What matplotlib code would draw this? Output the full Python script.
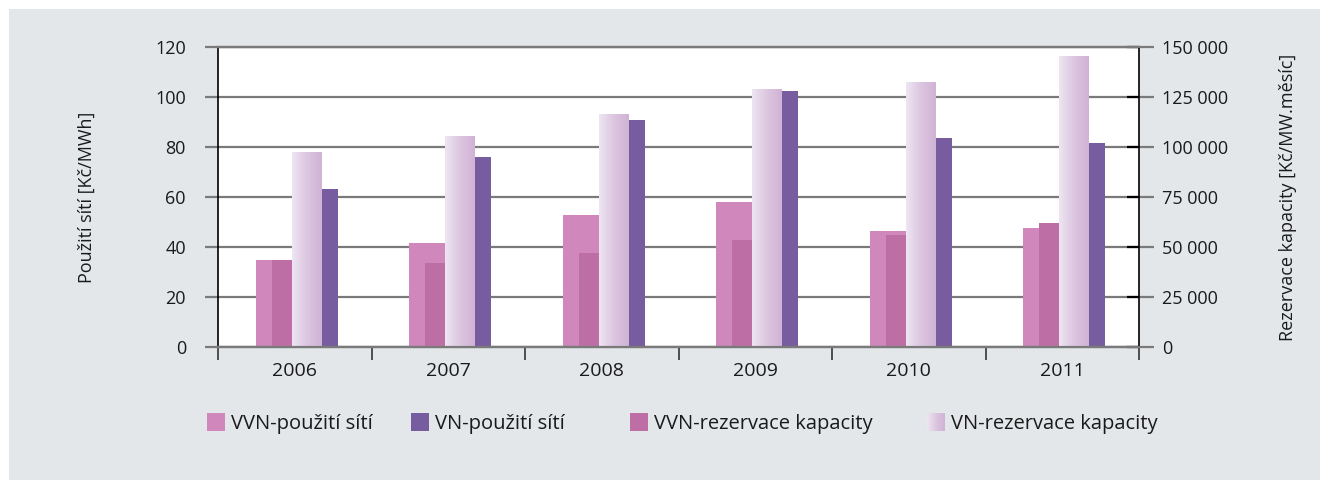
import numpy as np
import matplotlib
matplotlib.use("Agg")
import matplotlib.pyplot as plt
from matplotlib.ticker import FixedLocator, FuncFormatter
from matplotlib.patches import Rectangle
from matplotlib.colors import LinearSegmentedColormap

# ---- data ----
years = ['2006', '2007', '2008', '2009', '2010', '2011']
vvn_pouziti = [34.8, 41.6, 52.8, 58.0, 46.4, 47.6]        # Kč/MWh (left axis)
vn_pouziti = [63.2, 76.0, 90.8, 102.4, 83.6, 81.6]        # Kč/MWh (left axis)
vvn_rezervace = [43500, 42000, 47000, 53500, 56000, 62000]      # Kč/MW.měsíc (right)
vn_rezervace = [97500, 105500, 116500, 129000, 132500, 145500]  # Kč/MW.měsíc (right)
left_ticks = [0, 20, 40, 60, 80, 100, 120]
right_ticks = [0, 25000, 50000, 75000, 100000, 125000, 150000]
legend_labels = ['VVN-použití sítí', 'VN-použití sítí', 'VVN-rezervace kapacity', 'VN-rezervace kapacity']

# ---- style ----
plt.rcParams['font.family'] = ['Open Sans', 'DejaVu Sans']
BG = '#E4E7EA'
C_VVN_P = '#D088BC'
C_VN_P = '#775CA0'
C_VVN_R = '#BD6FA5'
GRAD = LinearSegmentedColormap.from_list('g', ['#EEE5F2', '#DCC6E0', '#D1B3D5'])
GRID = '#7A7A7A'
TXT = '#1a1a1a'
FS = 13
FS_X = 14
FS_LEG = 14.5

W, H = 1320, 480
fig = plt.figure(figsize=(W / 100, H / 100), dpi=100)
fig.patch.set_facecolor('white')
fig.add_artist(Rectangle((9 / W, 0), 1, 1 - 9 / H, transform=fig.transFigure,
                         facecolor=BG, edgecolor='none', zorder=-10))

ax_l, ax_r, ax_t, ax_b = 218, 1139, 47, 347
ax = fig.add_axes([ax_l / W, 1 - ax_b / H, (ax_r - ax_l) / W, (ax_b - ax_t) / H])
ax.set_facecolor('white')
ax2 = ax.twinx()
ax2.patch.set_visible(False)

x = np.arange(len(years))
u = 1 / 153.5  # one pixel in category units
s = -3 * u

ax.bar(x + s - 36 * u, vvn_pouziti, width=36 * u, align='edge', color=C_VVN_P, zorder=2)
ax.bar(x + s + 10 * u, vn_pouziti, width=36 * u, align='edge', color=C_VN_P, zorder=2)
ax2.bar(x + s - 20 * u, vvn_rezervace, width=20 * u, align='edge', color=C_VVN_R, zorder=2)
rbars = ax2.bar(x + s, vn_rezervace, width=30 * u, align='edge', color='none', zorder=2)
grad = np.linspace(0, 1, 64).reshape(1, -1)
for b in rbars:
    x0, w, h = b.get_x(), b.get_width(), b.get_height()
    im = ax2.imshow(grad, cmap=GRAD, extent=[x0, x0 + w, 0, h], aspect='auto',
                    interpolation='bilinear', zorder=2)
    im.set_clip_path(b)

ax.set_xlim(-0.5, len(years) - 0.5)
ax.set_ylim(0, 120)
ax2.set_ylim(0, 150000)
ax2.set_xlim(-0.5, len(years) - 0.5)

# grid
ax.set_yticks(left_ticks)
ax.yaxis.grid(True, color=GRID, linewidth=1.6, zorder=0)
ax.set_axisbelow(True)
ax.tick_params(axis='y', direction='out', length=13 * 0.72, width=1.6, color=GRID,
               labelsize=FS, pad=19 * 0.72, labelcolor=TXT)

ax2.set_yticks(right_ticks)
ax2.yaxis.set_major_formatter(FuncFormatter(lambda v, p: f'{int(v):,}'.replace(',', ' ')))
ax2.tick_params(axis='y', direction='out', length=15 * 0.72, width=1.6, color=GRID,
                labelsize=FS, pad=8 * 0.72, labelcolor=TXT)
ax2.yaxis.set_minor_locator(FixedLocator(right_ticks))
ax2.yaxis.remove_overlapping_locs = False
ax2.tick_params(axis='y', which='minor', direction='in', length=12 * 0.72, width=1.6, color='black')

# x axis: boundary ticks + centered labels
ax.xaxis.set_major_locator(FixedLocator(np.arange(-0.5, len(years), 1.0)))
ax.xaxis.set_major_formatter(FuncFormatter(lambda v, p: ''))
ax.xaxis.set_minor_locator(FixedLocator(x))
ax.set_xticks(x, years, minor=True)
ax.tick_params(axis='x', which='major', direction='out', length=13 * 0.72, width=1.2, color='#333333')
ax.tick_params(axis='x', which='minor', length=0, pad=15 * 0.72, labelsize=FS_X, labelcolor=TXT)
ax2.tick_params(axis='x', which='both', bottom=False, labelbottom=False)

for a in (ax, ax2):
    a.spines['top'].set_color(GRID)
    a.spines['top'].set_linewidth(1.6)
    a.spines['bottom'].set_color(GRID)
    a.spines['bottom'].set_linewidth(1.6)
    a.spines['left'].set_color('black')
    a.spines['left'].set_linewidth(1.2)
    a.spines['right'].set_color('black')
    a.spines['right'].set_linewidth(1.2)
ax.spines['right'].set_visible(False)
ax2.spines['left'].set_visible(False)

# axis titles
fig.text(87 / W, 1 - 197 / H, 'Použití sítí [Kč/MWh]', rotation=90, ha='center', va='center',
         fontsize=FS, color=TXT)
fig.text(1288 / W, 1 - 197 / H, 'Rezervace kapacity [Kč/MW.měsíc]', rotation=90, ha='center',
         va='center', fontsize=FS, color=TXT)

# legend
leg_x = [207, 411, 630, 927]
leg_y = 422
sq = 18
for i, (lx, lab) in enumerate(zip(leg_x, legend_labels)):
    if i < 3:
        col = [C_VVN_P, C_VN_P, C_VVN_R][i]
        fig.add_artist(Rectangle((lx / W, 1 - (leg_y + sq / 2) / H), sq / W, sq / H,
                                 transform=fig.transFigure, facecolor=col, edgecolor='none'))
    else:
        lax = fig.add_axes([lx / W, 1 - (leg_y + sq / 2) / H, sq / W, sq / H])
        lax.imshow(grad, cmap=GRAD, aspect='auto', interpolation='bilinear')
        lax.set_axis_off()
    fig.text((lx + sq + 6) / W, 1 - leg_y / H, lab, ha='left', va='center_baseline',
             fontsize=FS_LEG, color=TXT)

fig.savefig('out.png', dpi=100, facecolor=fig.get_facecolor())
